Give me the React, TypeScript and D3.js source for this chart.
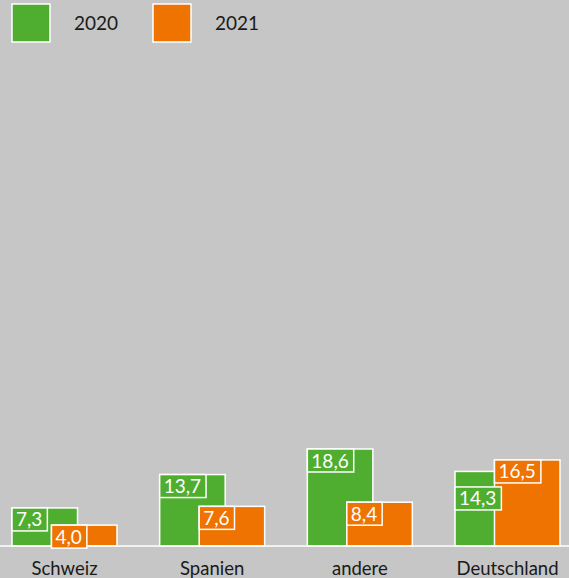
import { useEffect, useRef } from "react";
import * as d3 from "d3";

const categories = ["Schweiz", "Spanien", "andere", "Deutschland"];
const years = ["2020", "2021"];
const values2020 = [7.3, 13.7, 18.6, 14.3];
const values2021 = [4.0, 7.6, 8.4, 16.5];
const colors = ["#4fae30", "#ef7300"];

const width = 569;
const height = 578;

export default function App() {
  const svgRef = useRef<SVGSVGElement | null>(null);

  useEffect(() => {
    if (!svgRef.current) return;
    const svg = d3.select(svgRef.current);
    svg.selectAll("*").remove();

    svg.append("rect").attr("width", width).attr("height", height).attr("fill", "#c5c6c5");

    const baseline = 546;
    const x = d3.scaleBand<string>()
      .domain(categories)
      .range([12, 560])
      .paddingInner(0.289)
      .paddingOuter(0);
    const y = d3.scaleLinear().domain([0, 18.6]).range([baseline, 449]);

    const band = x.bandwidth();
    const barW = band * 0.624;
    const offset = band * 0.376;
    const series = [values2020, values2021];

    // bars
    categories.forEach((c, i) => {
      series.forEach((vals, s) => {
        svg.append("rect")
          .attr("x", x(c)! + s * offset)
          .attr("y", y(vals[i]))
          .attr("width", barW)
          .attr("height", baseline - y(vals[i]))
          .attr("fill", colors[s])
          .attr("stroke", "#fff")
          .attr("stroke-width", 1.5);
      });
    });

    // baseline
    svg.append("line")
      .attr("x1", 0).attr("x2", width)
      .attr("y1", baseline).attr("y2", baseline)
      .attr("stroke", "#fff").attr("stroke-width", 1.5);

    // value labels
    const boxH = 23;
    const fmt = (v: number) => v.toFixed(1).replace(".", ",");
    const measure = (v: number) => {
      const t = svg.append("text")
        .style("font-family", "Lato, sans-serif")
        .style("font-size", "19px")
        .text(fmt(v));
      const w = (t.node() as SVGTextElement).getComputedTextLength() + 9;
      t.remove();
      return w;
    };
    const drawLabel = (bx: number, by: number, v: number, color: string) => {
      const w = measure(v);
      const g = svg.append("g").attr("transform", `translate(${bx},${by})`);
      g.append("rect").attr("height", boxH).attr("width", w).attr("fill", color)
        .attr("stroke", "#fff").attr("stroke-width", 1.5);
      g.append("text")
        .attr("x", 4).attr("y", boxH / 2 + 7)
        .attr("fill", "#fff")
        .style("font-family", "Lato, sans-serif")
        .style("font-size", "19px")
        .text(fmt(v));
    };

    categories.forEach((c, i) => {
      const gx = x(c)!;
      const ox = gx + offset;
      const gTop = y(values2020[i]);
      const oTop = y(values2021[i]);
      const gw = measure(values2020[i]);
      // green label moves below the orange one when they would collide
      let gy = gTop;
      const overlapX = gx + gw > ox;
      const overlapY = oTop < gTop + boxH && oTop + boxH > gTop;
      if (overlapX && overlapY) gy = oTop + boxH + 4;
      drawLabel(gx, gy, values2020[i], colors[0]);
      drawLabel(ox, oTop, values2021[i], colors[1]);
    });

    // category labels
    svg.append("g").selectAll("text")
      .data(categories)
      .join("text")
      .attr("x", (d) => x(d)! + band / 2)
      .attr("y", 575)
      .attr("text-anchor", "middle")
      .attr("fill", "#1a1a1a")
      .style("font-family", "Lato, sans-serif")
      .style("font-size", "18.5px")
      .text((d) => d);

    // legend
    const legend = svg.append("g");
    years.forEach((yr, s) => {
      const lx = 12 + s * 141;
      legend.append("rect")
        .attr("x", lx).attr("y", 4).attr("width", 38).attr("height", 38)
        .attr("fill", colors[s]).attr("stroke", "#fff").attr("stroke-width", 1.5);
      legend.append("text")
        .attr("x", lx + 62).attr("y", 30)
        .attr("fill", "#1a1a1a")
        .style("font-family", "Lato, sans-serif")
        .style("font-size", "19px")
        .text(yr);
    });
  }, []);

  return (
    <svg
      ref={svgRef}
      width={width}
      height={height}
      style={{ position: "absolute", left: 0, top: 0, display: "block" }}
    />
  );
}
